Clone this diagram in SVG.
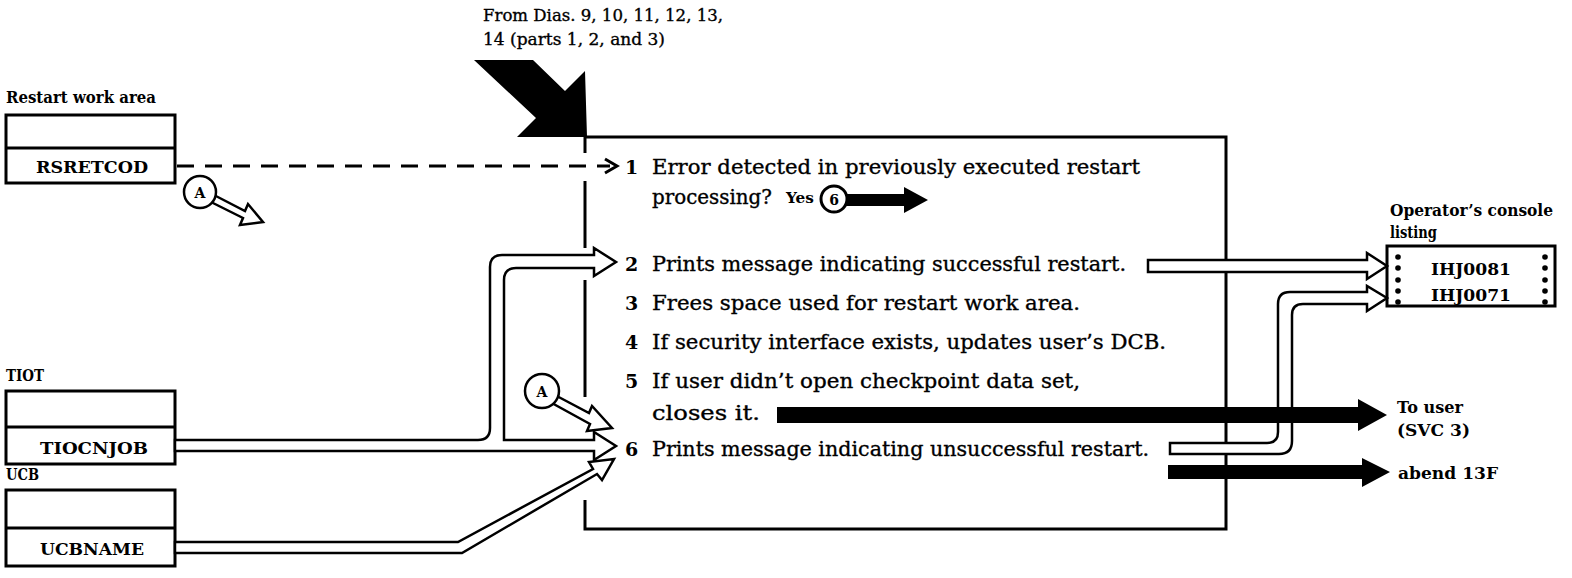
<svg xmlns="http://www.w3.org/2000/svg" width="1572" height="578" viewBox="0 0 1572 578">
  <style>
    .lbl { font-family: "DejaVu Serif", "Liberation Serif", serif; font-weight: bold; font-size: 16px; fill: #000; }
    .txt { font-family: "DejaVu Serif", "Liberation Serif", serif; font-size: 20px; fill: #000; stroke: #000; stroke-width: 0.35; }
    .num { font-family: "DejaVu Serif", "Liberation Serif", serif; font-size: 19px; font-weight: bold; fill: #000; }
    .box { fill: #fff; stroke: #000; stroke-width: 3; }
    .line { fill: none; stroke: #000; stroke-width: 3; }
    .hollow { fill: #fff; stroke: #000; stroke-width: 2.5; }
    .solid { fill: #000; stroke: none; }
    .ring { fill: #fff; stroke: #000; stroke-width: 2.5; }
  </style>

  <!-- Entry from preceding diagrams -->
  <g id="from-dias">
    <text class="txt" x="483" y="21" style="font-size:17px" textLength="240" lengthAdjust="spacingAndGlyphs">From Dias. 9, 10, 11, 12, 13,</text>
    <text class="txt" x="483" y="45" style="font-size:17px" textLength="182" lengthAdjust="spacingAndGlyphs">14 (parts 1, 2, and 3)</text>
    <polygon class="solid" points="474,60 533,60 565,91 585,71 587,137 517,137 536,118"/>
  </g>

  <!-- Restart work area -->
  <g id="restart-work-area">
    <text class="lbl" x="6" y="103" textLength="150" lengthAdjust="spacingAndGlyphs">Restart work area</text>
    <rect class="box" x="6" y="115" width="169" height="68"/>
    <line class="line" x1="6" y1="148" x2="175" y2="148"/>
    <text class="lbl" x="92" y="173" text-anchor="middle" textLength="112" lengthAdjust="spacingAndGlyphs">RSRETCOD</text>
  </g>

  <!-- TIOT -->
  <g id="tiot">
    <text class="lbl" x="6" y="381" textLength="38" lengthAdjust="spacingAndGlyphs">TIOT</text>
    <rect class="box" x="6" y="391" width="169" height="73"/>
    <line class="line" x1="6" y1="427" x2="175" y2="427"/>
    <text class="lbl" x="94" y="454" text-anchor="middle" textLength="108" lengthAdjust="spacingAndGlyphs">TIOCNJOB</text>
  </g>

  <!-- UCB -->
  <g id="ucb">
    <text class="lbl" x="6" y="480" textLength="33" lengthAdjust="spacingAndGlyphs">UCB</text>
    <rect class="box" x="6" y="490" width="169" height="76"/>
    <line class="line" x1="6" y1="528" x2="175" y2="528"/>
    <text class="lbl" x="92" y="555" text-anchor="middle" textLength="104" lengthAdjust="spacingAndGlyphs">UCBNAME</text>
  </g>

  <!-- Process box with its six steps -->
  <g id="process">
    <polyline class="line" points="585,137 1226,137 1226,529 585,529 585,500"/>
    <line class="line" x1="585" y1="137" x2="585" y2="153"/>
    <line class="line" x1="585" y1="181" x2="585" y2="248"/>
    <line class="line" x1="585" y1="280" x2="585" y2="397"/>

    <text class="num" x="625" y="174">1</text>
    <text class="txt" x="652" y="174" textLength="488" lengthAdjust="spacingAndGlyphs">Error detected in previously executed restart</text>
    <text class="txt" x="652" y="204" textLength="120" lengthAdjust="spacingAndGlyphs">processing?</text>
    <text class="lbl" x="786" y="203" style="font-size:14px" textLength="28" lengthAdjust="spacingAndGlyphs">Yes</text>

    <text class="num" x="625" y="271">2</text>
    <text class="txt" x="652" y="271" textLength="474" lengthAdjust="spacingAndGlyphs">Prints message indicating successful restart.</text>
    <text class="num" x="625" y="310">3</text>
    <text class="txt" x="652" y="310" textLength="428" lengthAdjust="spacingAndGlyphs">Frees space used for restart work area.</text>
    <text class="num" x="625" y="349">4</text>
    <text class="txt" x="652" y="349" textLength="514" lengthAdjust="spacingAndGlyphs">If security interface exists, updates user’s DCB.</text>
    <text class="num" x="625" y="388">5</text>
    <text class="txt" x="652" y="388" textLength="428" lengthAdjust="spacingAndGlyphs">If user didn’t open checkpoint data set,</text>
    <text class="txt" x="652" y="420" textLength="108" lengthAdjust="spacingAndGlyphs">closes it.</text>
    <text class="num" x="625" y="456">6</text>
    <text class="txt" x="652" y="456" textLength="497" lengthAdjust="spacingAndGlyphs">Prints message indicating unsuccessful restart.</text>
  </g>

  <!-- Operator's console listing -->
  <g id="console">
    <text class="lbl" x="1390" y="216" textLength="163" lengthAdjust="spacingAndGlyphs">Operator’s console</text>
    <text class="lbl" x="1390" y="238" textLength="47" lengthAdjust="spacingAndGlyphs">listing</text>
    <rect class="box" x="1387" y="246" width="168" height="60"/>
    <g class="solid">
      <circle cx="1398" cy="257" r="2.8"/><circle cx="1398" cy="268" r="2.8"/><circle cx="1398" cy="280" r="2.8"/><circle cx="1398" cy="291" r="2.8"/><circle cx="1398" cy="302" r="2.8"/>
      <circle cx="1545" cy="257" r="2.8"/><circle cx="1545" cy="268" r="2.8"/><circle cx="1545" cy="280" r="2.8"/><circle cx="1545" cy="291" r="2.8"/><circle cx="1545" cy="302" r="2.8"/>
    </g>
    <text class="lbl" x="1471" y="275" text-anchor="middle" textLength="80" lengthAdjust="spacingAndGlyphs">IHJ0081</text>
    <text class="lbl" x="1471" y="301" text-anchor="middle" textLength="80" lengthAdjust="spacingAndGlyphs">IHJ0071</text>
  </g>

  <!-- Exits -->
  <g id="exit-user">
    <text class="lbl" x="1397" y="413" textLength="66" lengthAdjust="spacingAndGlyphs">To user</text>
    <text class="lbl" x="1397" y="436" textLength="73" lengthAdjust="spacingAndGlyphs">(SVC 3)</text>
  </g>
  <g id="exit-abend">
    <text class="lbl" x="1398" y="479" textLength="100" lengthAdjust="spacingAndGlyphs">abend 13F</text>
  </g>

  <!-- Off-page connector A (from RSRETCOD) -->
  <g id="connector-a1">
    <polygon class="hollow" points="212,194 245,211 248,204 263,222 240,225 243,218 209,201"/>
    <circle class="ring" cx="200" cy="192" r="16"/>
    <text class="lbl" x="200" y="198" text-anchor="middle" style="font-size:14px">A</text>
  </g>

  <!-- Off-page connector A (into step 6) -->
  <g id="connector-a2">
    <polygon class="hollow" points="553,394 589,413 592,406 612,428 587,431 590,424 550,402"/>
    <circle class="ring" cx="542" cy="391" r="17"/>
    <text class="lbl" x="542" y="397" text-anchor="middle" style="font-size:14px">A</text>
  </g>

  <g id="connectors">
    <!-- dashed reference from RSRETCOD to step 1 -->
    <line x1="177" y1="166" x2="610" y2="166" stroke="#000" stroke-width="3" stroke-dasharray="17,11"/>
    <polyline class="line" points="605,159 617,166 605,173"/>

    <!-- Yes branch to step 6 -->
    <polygon class="solid" points="846,194 904,194 904,187 928,200 904,213 904,206 846,206"/>
    <circle cx="834" cy="199" r="13" fill="#fff" stroke="#000" stroke-width="3"/>
    <text class="lbl" x="834" y="205" text-anchor="middle" style="font-size:14px">6</text>

    <!-- TIOCNJOB to steps 2 and 6 -->
    <path class="hollow" d="M175,440 H478 Q490,440 490,428 V267 Q490,255 502,255 H594 V248 L616,262 L594,276 V268 H516 Q504,268 504,280 V440 H594 V432 L616,446 L594,460 V451 H175 Z"/>

    <!-- UCBNAME to step 6 -->
    <path class="hollow" d="M175,542 H458 L593,469 L589,462 L614,459 L602,480 L597,474 L462,553 H175 Z"/>

    <!-- step 2 message to console -->
    <path class="hollow" d="M1148,260 H1367 V253 L1387,266 L1367,279 V272 H1148 Z"/>

    <!-- step 6 message to console -->
    <path class="hollow" d="M1170,443 H1267 Q1278,443 1278,432 V304 Q1278,292 1290,292 H1367 V286 L1387,298 L1367,311 V304 H1303 Q1292,304 1292,315 V441 Q1292,454 1279,454 H1170 Z"/>

    <!-- step 5 return to user -->
    <polygon class="solid" points="777,407 1358,407 1358,399 1387,415 1358,431 1358,423 777,423"/>

    <!-- abend -->
    <polygon class="solid" points="1168,465 1362,465 1362,458 1390,472 1362,487 1362,479 1168,479"/>
  </g>
</svg>
